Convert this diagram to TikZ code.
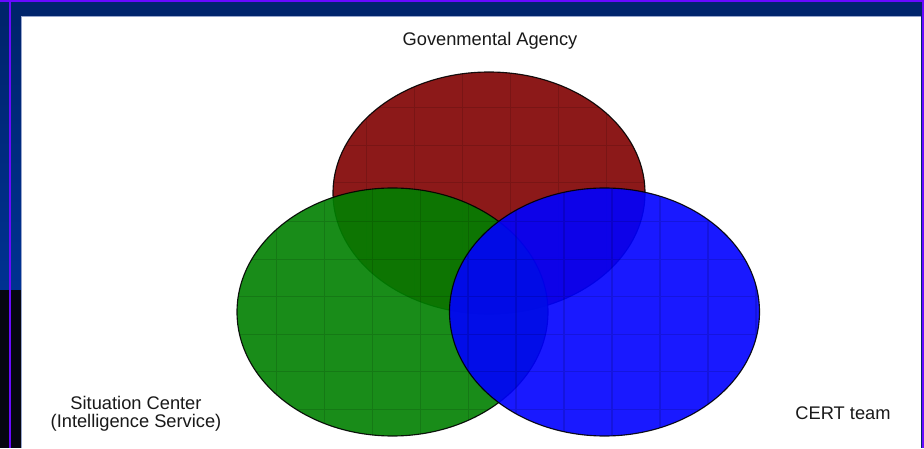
\documentclass[tikz,border=0pt]{standalone}
\usepackage{fontspec}
\setmainfont{Liberation Sans}
\definecolor{framenavy}{RGB}{0,36,108}
\definecolor{frameblue}{RGB}{0,50,146}
\definecolor{frameblack}{RGB}{5,6,16}
\definecolor{framepurple}{RGB}{104,10,255}
\definecolor{frameedge}{RGB}{150,165,205}
\definecolor{agencyred}{RGB}{128,0,0}
\definecolor{situationgreen}{RGB}{0,128,0}
\definecolor{certblue}{RGB}{0,0,255}
\tikzset{
  setfill/.style={fill opacity=0.9, draw opacity=0.9},
  setgrid/.style={black, opacity=0.13, line width=0.9pt},
  setline/.style={draw=black, line width=0.8pt},
  setlabel/.style={font=\fontsize{13}{13}\selectfont, text=black!90, align=center, inner sep=0pt}
}

\begin{document}
\begin{tikzpicture}[scale=1]
\useasboundingbox (0,0) rectangle (23.1,11.2);
% frame
\fill [framenavy] (0,0) rectangle (23.1,11.2);
\shade [top color=framenavy, bottom color=frameblue] (0,3.95) rectangle (0.525,10.8);
\fill [frameblack] (0,0) rectangle (0.525,3.95);
\fill [white] (0.525,0) rectangle (23.025,10.8);
\draw [frameedge, line width=0.5pt] (0.53,0) |- (23.025,10.795);
\draw [framepurple, line width=1.1pt] (0.256,0) -- (0.256,11.2);
\draw [framepurple, line width=1.4pt] (0,11.175) -- (23.1,11.175);
\draw [framepurple, line width=1.4pt] (23.075,0) -- (23.075,11.2);

\coordinate (agency) at (12.225,6.375);
\coordinate (situation) at (9.8125,3.4);
\coordinate (cert) at (15.1125,3.4);

% governmental agency
\begin {scope}
  \fill [agencyred, setfill] (agency) ellipse [x radius=3.9, y radius=3.025];
  \begin {scope}
    \clip (agency) ellipse [x radius=3.9, y radius=3.025];
    \draw [setgrid, shift={(9.1675,8.5075)}] (-2,-7) grid [xstep=1.2, ystep=0.9375] (8,1);
  \end {scope}
  \draw [setline, draw opacity=0.9] (agency) ellipse [x radius=3.9, y radius=3.025];
\end {scope}

% situation center
\begin {scope}
  \fill [situationgreen, setfill] (situation) ellipse [x radius=3.8875, y radius=3.1];
  \begin {scope}
    \clip (situation) ellipse [x radius=3.8875, y radius=3.1];
    \draw [setgrid, shift={(6.9175,5.6575)}] (-2,-7) grid [xstep=1.2, ystep=0.9375] (8,1);
  \end {scope}
  \draw [setline, draw opacity=0.9] (situation) ellipse [x radius=3.8875, y radius=3.1];
\end {scope}

% cert team
\begin {scope}
  \fill [certblue, setfill] (cert) ellipse [x radius=3.875, y radius=3.1];
  \begin {scope}
    \clip (cert) ellipse [x radius=3.875, y radius=3.1];
    \draw [setgrid, shift={(16.5,5.6575)}] (-6,-7) grid [xstep=1.2, ystep=0.9375] (4,1);
  \end {scope}
  \draw [setline, draw opacity=0.9] (cert) ellipse [x radius=3.875, y radius=3.1];
\end {scope}

\node [setlabel] (agencylabel) at (12.25,10.175) {Govenmental Agency};
\node [setlabel] (situationlabel) at (3.4,0.85) {Situation Center\\(Intelligence Service)};
\node [setlabel] (certlabel) at (21.075,0.875) {CERT team};
\end{tikzpicture}
\end{document}
